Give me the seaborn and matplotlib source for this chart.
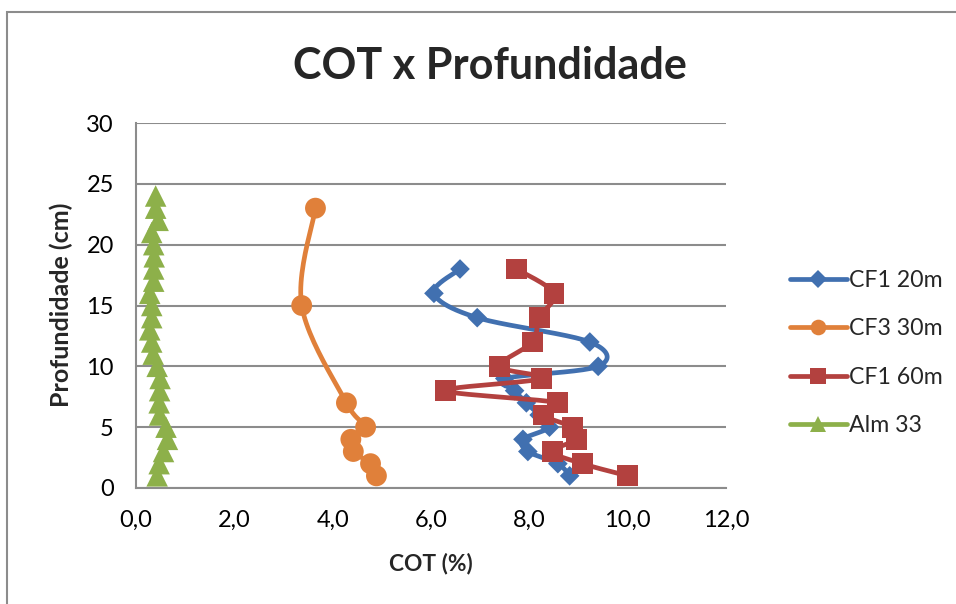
import numpy as np
import matplotlib
matplotlib.use("Agg")
import matplotlib.pyplot as plt
from matplotlib.lines import Line2D
from matplotlib.patches import Rectangle
from matplotlib.ticker import FuncFormatter
import seaborn as sns

# ---------------- data ----------------
cf1_20_depth = [18, 16, 14, 12, 10, 9, 8, 7, 6, 5, 4, 3, 2, 1]
cf1_20_cot = [6.59, 6.06, 6.94, 9.23, 9.40, 7.50, 7.70, 7.94, 8.20, 8.41, 7.87, 7.97, 8.58, 8.82]

cf3_30_depth = [23, 15, 7, 5, 4, 3, 2, 1]
cf3_30_cot = [3.65, 3.37, 4.28, 4.67, 4.37, 4.42, 4.77, 4.89]

cf1_60_depth = [18, 16, 14, 12, 10, 9, 8, 7, 6, 5, 4, 3, 2, 1]
cf1_60_cot = [7.74, 8.50, 8.20, 8.06, 7.40, 8.25, 6.30, 8.58, 8.28, 8.88, 8.96, 8.47, 9.08, 10.0]

alm33_depth = list(range(24, 0, -1))
alm33_cot = [0.40, 0.40, 0.45, 0.32, 0.36, 0.37, 0.36, 0.36, 0.28, 0.32, 0.32, 0.28,
             0.32, 0.35, 0.43, 0.49, 0.48, 0.47, 0.48, 0.61, 0.64, 0.56, 0.47, 0.43]

series_names = ["CF1 20m", "CF3 30m", "CF1 60m", "Alm 33"]
x_ticks = [0, 2, 4, 6, 8, 10, 12]
y_ticks = [0, 5, 10, 15, 20, 25, 30]

title = "COT x Profundidade"
x_label = "COT (%)"
y_label = "Profundidade (cm)"

# ---------------- style ----------------
sns.set_style("white")
plt.rcParams["font.family"] = ["Lato", "DejaVu Sans"]

W, H = 956, 604
fig = plt.figure(figsize=(W / 100, H / 100), dpi=100)
ax = fig.add_axes([136 / W, (H - 488) / H, (726 - 136) / W, (488 - 123) / H])

ax.set_xlim(0, 12)
ax.set_ylim(0, 30)

px_x = (726 - 136) / 12.0
px_y = (488 - 123) / 30.0


def smooth(xs, ys, n=24):
    P = np.column_stack([np.asarray(xs, float) * px_x, np.asarray(ys, float) * px_y])
    out = []
    for i in range(len(P) - 1):
        p0 = P[i - 1] if i > 0 else P[i]
        p1 = P[i]
        p2 = P[i + 1]
        p3 = P[i + 2] if i + 2 < len(P) else P[i + 1]
        c1 = p1 + (p2 - p0) / 6.0
        c2 = p2 - (p3 - p1) / 6.0
        t = np.linspace(0, 1, n)[:, None]
        seg = (1 - t) ** 3 * p1 + 3 * (1 - t) ** 2 * t * c1 + 3 * (1 - t) * t ** 2 * c2 + t ** 3 * p2
        out.append(seg if i == 0 else seg[1:])
    out = np.vstack(out)
    return out[:, 0] / px_x, out[:, 1] / px_y


colors = ["#4170B0", "#E0803A", "#B3413F", "#8DB04A"]
markers = ["D", "o", "s", "^"]
msizes = [10, 15, 15, 15.5]
data = [(cf1_20_cot, cf1_20_depth), (cf3_30_cot, cf3_30_depth),
        (cf1_60_cot, cf1_60_depth), (alm33_cot, alm33_depth)]

for k, ((xs, ys), c, m, ms) in enumerate(zip(data, colors, markers, msizes)):
    sx_, sy_ = smooth(xs, ys)
    sns.lineplot(x=sx_, y=sy_, sort=False, estimator=None, color=c, lw=3.4,
                 ax=ax, zorder=3 + 2 * k, legend=False)
    sns.scatterplot(x=xs, y=ys, marker=m, s=ms ** 2, color=c, edgecolor="none",
                    linewidth=0, ax=ax, zorder=4 + 2 * k, legend=False)

# axes styling
ax.set_xticks(x_ticks)
ax.set_yticks(y_ticks)
ax.xaxis.set_major_formatter(FuncFormatter(lambda v, p: f"{v:.1f}".replace(".", ",")))
ax.yaxis.set_major_formatter(FuncFormatter(lambda v, p: f"{int(v)}"))
ax.grid(axis="y", color="#8C8C8C", lw=1.5)
ax.grid(axis="x", visible=False)
ax.set_axisbelow(True)
for s in ["top", "right"]:
    ax.spines[s].set_visible(False)
for s in ["left", "bottom"]:
    ax.spines[s].set_color("#8C8C8C")
    ax.spines[s].set_linewidth(1.5)
ax.tick_params(axis="both", which="major", direction="out", length=7, width=1.5,
               color="#8C8C8C", labelsize=17, labelcolor="black", pad=6)
ax.tick_params(axis="y", length=8, pad=8)
ax.tick_params(axis="x", pad=9)

# axis labels placed at reference positions
xl = fig.text(431 / W, (H - 563) / H, x_label, ha="center", va="center",
              fontsize=16.5, fontweight="bold")
yl = fig.text(61 / W, (H - 305) / H, y_label, ha="center", va="center",
              rotation=90, fontsize=16.5, fontweight="bold")
tt = fig.text(490 / W, (H - 66) / H, title, ha="center", va="center",
              fontsize=31, fontweight="bold")

# fit text widths to the reference extents
fig.canvas.draw()
r = fig.canvas.get_renderer()
for t, target, vertical in [(xl, 84, False), (yl, 204, True), (tt, 393, False)]:
    bb = t.get_window_extent(r)
    cur = bb.height if vertical else bb.width
    t.set_fontsize(t.get_fontsize() * target / cur)

handles = [Line2D([0], [0], color=c, lw=3.4, marker=m,
                  markersize=ms * (0.75 if m != "D" else 0.95), markeredgewidth=0)
           for c, m, ms in zip(colors, markers, msizes)]
fig.legend(handles, series_names, loc="center left",
           bbox_to_anchor=(790 / W, (H - 353) / H), bbox_transform=fig.transFigure,
           frameon=False, fontsize=16.7, handlelength=2.45, handletextpad=0.1,
           labelspacing=1.18, borderpad=0, borderaxespad=0)

# chart area border (cropped at right and bottom)
fig.patches.append(Rectangle((7 / W, -0.1), 1.2, (H - 12) / H + 0.1,
                             transform=fig.transFigure, fill=False,
                             edgecolor="#8C8C8C", lw=1.5))

fig.savefig("out.png", dpi=100)
